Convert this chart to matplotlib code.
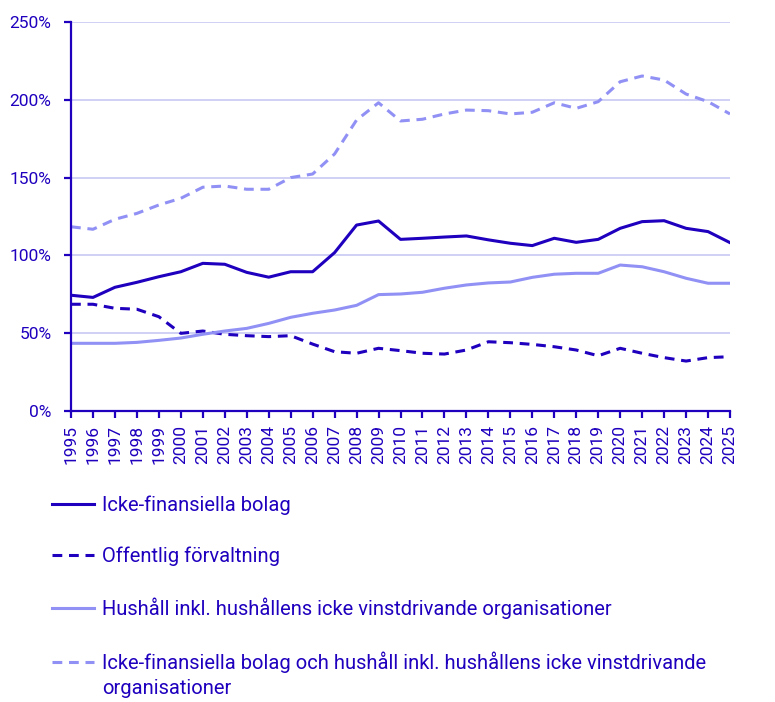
import matplotlib
import matplotlib.pyplot as plt
import numpy as np

matplotlib.use("Agg")
plt.rcParams["font.family"] = ["Roboto", "DejaVu Sans"]

years = np.arange(1995, 2026)

# Skuld i procent av BNP
icke_fin = [74.4, 73.0, 79.5, 82.7, 86.3, 89.5, 94.9, 94.3, 89.1, 86.0,
            89.5, 89.5, 101.8, 119.5, 122.1, 110.3, 111.0, 111.8, 112.5, 110.0,
            107.8, 106.3, 111.0, 108.4, 110.3, 117.4, 121.7, 122.3, 117.4, 115.3,
            108.2]
offentlig = [68.6, 68.6, 66.0, 65.4, 60.6, 49.9, 51.4, 49.3, 48.4, 47.8,
             48.4, 43.0, 38.1, 37.1, 40.3, 38.8, 37.1, 36.6, 39.2, 44.5,
             43.9, 42.8, 41.3, 39.2, 35.5, 40.3, 37.1, 34.3, 32.1, 34.3,
             34.9]
hushall = [43.5, 43.5, 43.5, 44.1, 45.4, 46.9, 49.3, 51.4, 53.1, 56.3,
           60.2, 62.8, 64.9, 67.9, 74.8, 75.2, 76.3, 78.9, 81.0, 82.3,
           82.9, 85.9, 87.9, 88.5, 88.5, 93.8, 92.7, 89.5, 85.3, 82.1,
           82.1]
icke_fin_hush = [118.4, 116.8, 123.2, 127.0, 132.4, 136.7, 143.8, 144.6, 142.5, 142.5,
                 150.0, 152.3, 165.2, 187.0, 198.1, 186.4, 187.5, 190.9, 193.4, 193.0,
                 190.9, 192.0, 198.1, 194.5, 198.8, 211.6, 215.3, 212.7, 203.7, 198.8,
                 190.9]

labels = [
    "Icke-finansiella bolag",
    "Offentlig förvaltning",
    "Hushåll inkl. hushållens icke vinstdrivande organisationer",
    "Icke-finansiella bolag och hushåll inkl. hushållens icke vinstdrivande",
]
label_cont = "organisationer"  # andra raden i sista förklaringen

dark = "#1E00BE"
light = "#9191F5"
grid = "#CDCDF5"
fs = 12.5
leg_fs = 14.5

fig = plt.figure(figsize=(7.75, 7.02), dpi=100)
ax = fig.add_axes([71 / 775, 1 - 411 / 702, 659 / 775, 389 / 702])

dash = (0, (3.2, 2.2))
l1, = ax.plot(years, icke_fin, color=dark, lw=2.2, label=labels[0])
l2, = ax.plot(years, offentlig, color=dark, lw=2.2, ls=dash, label=labels[1])
l3, = ax.plot(years, hushall, color=light, lw=2.2, label=labels[2])
l4, = ax.plot(years, icke_fin_hush, color=light, lw=2.2, ls=dash, label=labels[3])

ax.set_xlim(1995, 2025)
ax.set_ylim(0, 250)
ax.set_xticks(years)
ax.set_xticklabels([str(y) for y in years], rotation=90)
ax.set_yticks(np.arange(0, 251, 50))
ax.set_yticklabels([f"{v}%" for v in range(0, 251, 50)])
ax.yaxis.grid(True, color=grid, lw=1.3)
ax.set_axisbelow(True)

for s in ["top", "right"]:
    ax.spines[s].set_visible(False)
for s in ["left", "bottom"]:
    ax.spines[s].set_color(dark)
    ax.spines[s].set_linewidth(1.6)
ax.tick_params(axis="both", colors=dark, labelcolor=dark, labelsize=fs,
               length=5, width=1.6)
ax.tick_params(axis="y", pad=9)
ax.tick_params(axis="x", pad=5)

leg = fig.legend(handles=[l1, l2, l3, l4], loc="upper left",
                 bbox_to_anchor=(44 / 775, 1 - 487 / 702), frameon=False,
                 fontsize=leg_fs, labelcolor=dark, handlelength=2.1,
                 handletextpad=0.38, labelspacing=1.58, borderaxespad=0)

# andra raden under sista förklaringstexten
fig.canvas.draw()
bb = leg.get_texts()[-1].get_window_extent()
x0, y0 = fig.transFigure.inverted().transform((bb.x0, bb.y0 - 25))
fig.text(x0, y0, label_cont, fontsize=leg_fs, color=dark, ha="left", va="bottom")

fig.savefig("out.png", dpi=100)
